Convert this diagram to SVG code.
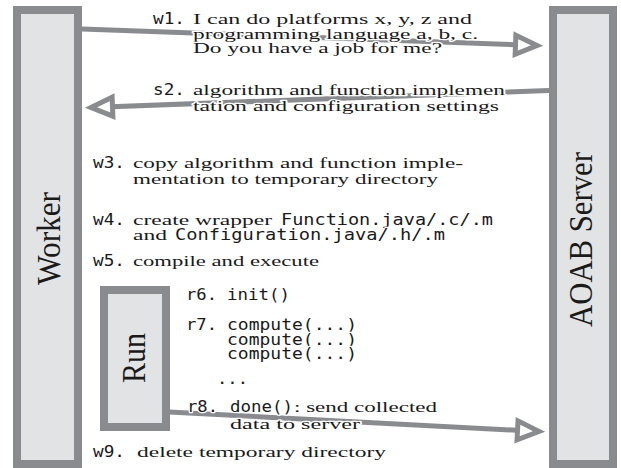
<svg xmlns="http://www.w3.org/2000/svg" width="621" height="468" viewBox="0 0 621 468">
<style>
.box{fill:#e2e3e5;stroke:#8a8b8f;stroke-width:8}
.conn{fill:none;stroke:#8a8b8f;stroke-width:5;marker-end:url(#ah)}
.s{font-family:"Liberation Serif","Times New Roman",serif;font-size:15.5px;fill:#1a1a1a;stroke:#fff;stroke-width:2.5px;paint-order:stroke;stroke-linejoin:round}
.m{font-family:"DejaVu Sans Mono","Liberation Mono",monospace;font-size:16.5px;fill:#1a1a1a;stroke:#fff;stroke-width:2.5px;paint-order:stroke;stroke-linejoin:round}
.big{font-family:"Liberation Serif","Times New Roman",serif;font-size:28px;fill:#1a1a1a}
</style>
<defs>
<marker id="ah" markerUnits="userSpaceOnUse" viewBox="-30 -15 36 30" refX="0" refY="0" markerWidth="36" markerHeight="30" orient="auto" overflow="visible">
<path d="M-21.5,-9.5 L0,0 L-21.5,9.5 Z" fill="#fff" stroke="#8a8b8f" stroke-width="5" stroke-linejoin="miter"/>
</marker>
</defs>
<g id="worker">
<rect class="box" x="17" y="10" width="61" height="454"/>
<text class="big" transform="translate(60,238.5) rotate(-90) scale(1,1.2)" x="-46.5" y="0" textLength="93" lengthAdjust="spacingAndGlyphs">Worker</text>
</g>
<g id="server">
<rect class="box" x="553" y="10" width="60" height="454"/>
<text class="big" transform="translate(592,239.5) rotate(-90) scale(1,1.2)" x="-87.5" y="0" textLength="175" lengthAdjust="spacingAndGlyphs">AOAB Server</text>
</g>
<g id="run">
<rect class="box" x="104" y="290" width="62" height="137"/>
<text class="big" transform="translate(145,358) rotate(-90) scale(1,1.2)" x="-25" y="0" textLength="50" lengthAdjust="spacingAndGlyphs">Run</text>
</g>
<g id="connectors">
<path class="conn" d="M82,29 L537,45.5"/>
<path class="conn" d="M549,90.5 L91,107.5"/>
<path class="conn" d="M169,412 L539,431.5"/>
</g>
<g id="steps">
<text class="m" x="153" y="24" textLength="32" lengthAdjust="spacingAndGlyphs">w1.</text>
<text class="s" x="193" y="24" textLength="279" lengthAdjust="spacingAndGlyphs">I can do platforms x, y, z and</text>
<text class="s" x="193" y="38.5" textLength="285" lengthAdjust="spacingAndGlyphs">programming language a, b, c.</text>
<text class="s" x="193" y="53" textLength="249" lengthAdjust="spacingAndGlyphs">Do you have a job for me?</text>
<text class="m" x="153" y="95" textLength="32" lengthAdjust="spacingAndGlyphs">s2.</text>
<text class="s" x="193" y="95" textLength="312" lengthAdjust="spacingAndGlyphs">algorithm and function implemen</text>
<text class="s" x="193" y="111" textLength="306" lengthAdjust="spacingAndGlyphs">tation and configuration settings</text>
<text class="m" x="93" y="168" textLength="32" lengthAdjust="spacingAndGlyphs">w3.</text>
<text class="s" x="133" y="168" textLength="330" lengthAdjust="spacingAndGlyphs">copy algorithm and function imple-</text>
<text class="s" x="133" y="184" textLength="305" lengthAdjust="spacingAndGlyphs">mentation to temporary directory</text>
<text class="m" x="93" y="225" textLength="32" lengthAdjust="spacingAndGlyphs">w4.</text>
<text class="s" x="133" y="225" textLength="139" lengthAdjust="spacingAndGlyphs">create wrapper</text>
<text class="m" x="281" y="225" textLength="212" lengthAdjust="spacingAndGlyphs">Function.java/.c/.m</text>
<text class="s" x="133" y="240" textLength="34" lengthAdjust="spacingAndGlyphs">and</text>
<text class="m" x="175" y="240" textLength="270" lengthAdjust="spacingAndGlyphs">Configuration.java/.h/.m</text>
<text class="m" x="93" y="266" textLength="32" lengthAdjust="spacingAndGlyphs">w5.</text>
<text class="s" x="133" y="266" textLength="186" lengthAdjust="spacingAndGlyphs">compile and execute</text>
<text class="m" x="186" y="300" textLength="31" lengthAdjust="spacingAndGlyphs">r6.</text>
<text class="m" x="227" y="300" textLength="63" lengthAdjust="spacingAndGlyphs">init()</text>
<text class="m" x="186" y="330" textLength="31" lengthAdjust="spacingAndGlyphs">r7.</text>
<text class="m" x="227" y="330" textLength="130" lengthAdjust="spacingAndGlyphs">compute(...)</text>
<text class="m" x="227" y="344.5" textLength="130" lengthAdjust="spacingAndGlyphs">compute(...)</text>
<text class="m" x="227" y="359" textLength="130" lengthAdjust="spacingAndGlyphs">compute(...)</text>
<text class="m" x="217" y="384" textLength="31" lengthAdjust="spacingAndGlyphs">...</text>
<text class="m" x="187" y="412" textLength="31" lengthAdjust="spacingAndGlyphs">r8.</text>
<text class="m" x="230" y="412" textLength="63" lengthAdjust="spacingAndGlyphs">done()</text>
<text class="s" x="294" y="412" textLength="143" lengthAdjust="spacingAndGlyphs">: send collected</text>
<text class="s" x="230" y="429" textLength="130" lengthAdjust="spacingAndGlyphs">data to server</text>
<text class="m" x="93" y="457" textLength="32" lengthAdjust="spacingAndGlyphs">w9.</text>
<text class="s" x="137" y="457" textLength="249" lengthAdjust="spacingAndGlyphs">delete temporary directory</text>
</g>
</svg>
